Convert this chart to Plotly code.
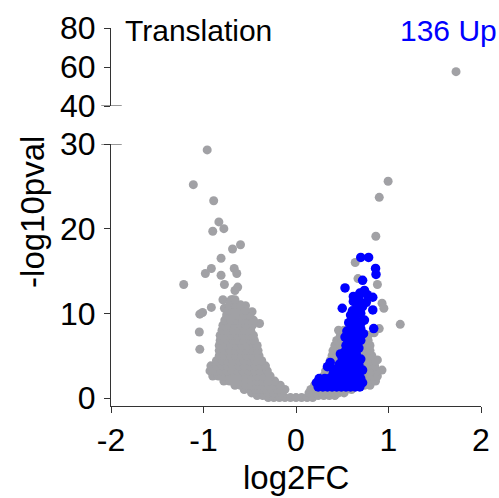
import plotly.graph_objects as go

# ---------------- data ----------------
# isolated grey points (log2FC, -log10pval)
gray_sc_x = [-0.96, -1.11, -0.89, -0.834, -0.78, -0.90, -0.60, -0.686, -0.81, -0.915,
             -0.98, -0.668, -0.64, -0.81, -1.214, -0.774, -0.63, -0.66, -1.01, -1.04,
             -0.915, -1.045, -1.04, -0.79, -0.686, -0.546, -0.475, -0.394, -0.774,
             0.996, 0.90, 0.863, 0.64, 0.67, 0.88, 0.93, 0.95, 1.127, 0.53, 0.90,
             0.845, 0.93, 0.88]
gray_sc_y = [29.3, 25.2, 23.3, 20.8, 20.0, 19.7, 18.1, 17.6, 16.5, 15.3,
             14.7, 15.3, 14.7, 14.5, 13.4, 13.4, 13.1, 12.7, 10.1, 9.9,
             10.7, 7.8, 5.75, 11.6, 11.6, 10.9, 10.2, 8.8, 10.6,
             25.6, 23.7, 19.1, 16.0, 14.1, 13.4, 11.2, 10.6, 8.7, 7.5, 8.2,
             7.7, 3.3, 4.5]

# dense grey cloud, listed row by row: -log10pval level and the log2FC values on it
cloud_levels = [0.05, 0.3, 0.6, 1.0, 1.5, 2.0, 2.6, 3.2, 3.8, 4.4, 5.0, 5.6, 6.2,
                6.8, 7.4, 8.0, 8.6, 9.2, 9.8, 10.4, 11.0, 11.6]
cloud_x = [
    [-0.30, -0.24, -0.18, -0.12, -0.06, 0.0, 0.06, 0.12, 0.18],
    [-0.42, -0.36, -0.30, -0.24, -0.18, 0.18, 0.24, 0.30, 0.36, 0.42],
    [-0.48, -0.42, -0.36, -0.30, -0.24, -0.16, 0.14, 0.22, 0.28, 0.34, 0.40, 0.46, 0.52],
    [-0.56, -0.50, -0.44, -0.38, -0.32, -0.26, -0.20, -0.12, 0.16, 0.24, 0.30, 0.36, 0.42, 0.48, 0.54, 0.60],
    [-0.66, -0.60, -0.54, -0.48, -0.42, -0.36, -0.30, -0.24, -0.17, 0.20, 0.26, 0.32, 0.38, 0.44, 0.50, 0.56, 0.62, 0.68, 0.74, 0.80],
    [-0.78, -0.72, -0.66, -0.60, -0.54, -0.48, -0.42, -0.36, -0.30, -0.23, 0.26, 0.32, 0.38, 0.44, 0.50, 0.56, 0.62, 0.68, 0.74, 0.80, 0.86],
    [-0.90, -0.84, -0.78, -0.72, -0.66, -0.60, -0.54, -0.48, -0.42, -0.36, -0.28, 0.30, 0.36, 0.42, 0.48, 0.54, 0.60, 0.66, 0.72, 0.78, 0.84, 0.88],
    [-0.93, -0.87, -0.81, -0.75, -0.69, -0.63, -0.57, -0.51, -0.45, -0.39, -0.31, 0.32, 0.38, 0.44, 0.50, 0.56, 0.62, 0.68, 0.74, 0.82, 0.88],
    [-0.92, -0.86, -0.80, -0.74, -0.68, -0.62, -0.56, -0.50, -0.44, -0.38, -0.33, 0.35, 0.41, 0.47, 0.53, 0.59, 0.65, 0.71, 0.77, 0.85],
    [-0.86, -0.80, -0.74, -0.68, -0.62, -0.56, -0.50, -0.44, -0.37, 0.37, 0.43, 0.49, 0.55, 0.61, 0.67, 0.73, 0.79, 0.86],
    [-0.83, -0.77, -0.71, -0.65, -0.59, -0.53, -0.47, -0.40, 0.39, 0.45, 0.51, 0.57, 0.63, 0.69, 0.75, 0.82],
    [-0.83, -0.77, -0.71, -0.65, -0.59, -0.53, -0.47, -0.41, 0.40, 0.46, 0.52, 0.58, 0.64, 0.70, 0.76, 0.80],
    [-0.83, -0.76, -0.70, -0.64, -0.58, -0.52, -0.46, -0.42, 0.42, 0.48, 0.54, 0.60, 0.66, 0.72, 0.80],
    [-0.82, -0.74, -0.68, -0.62, -0.56, -0.50, -0.45, 0.44, 0.50, 0.56, 0.62, 0.68, 0.78],
    [-0.82, -0.75, -0.69, -0.63, -0.57, -0.51, -0.46, 0.48, 0.54, 0.60, 0.66, 0.78],
    [-0.80, -0.73, -0.67, -0.61, -0.55, -0.49, 0.46, 0.52, 0.58],
    [-0.79, -0.72, -0.66, -0.60, -0.54, -0.47],
    [-0.77, -0.70, -0.64, -0.58, -0.52, -0.46],
    [-0.75, -0.68, -0.62, -0.56, -0.50],
    [-0.73, -0.66, -0.60, -0.55],
    [-0.72, -0.66, -0.60],
    [-0.70, -0.66],
]

# the one grey outlier on the upper (broken) axis
top_x = [1.73]
top_y = [57.6]

# significant "Up" genes (blue)
blue_x = [0.70, 0.785, 0.86, 0.865, 0.72, 0.53, 0.62, 0.69, 0.74, 0.77, 0.83, 0.50, 0.83,
          0.67, 0.70, 0.63, 0.74, 0.84, 0.60, 0.58, 0.53, 0.67,
          0.66, 0.72, 0.76, 0.68, 0.62, 0.71, 0.66, 0.64, 0.70, 0.62, 0.56, 0.60, 0.66, 0.70,
          0.54, 0.58, 0.63, 0.68, 0.52, 0.56, 0.62, 0.66, 0.50, 0.54, 0.60, 0.64, 0.70,
          0.47, 0.52, 0.58, 0.63, 0.68, 0.37, 0.34, 0.40, 0.45, 0.50, 0.55, 0.61, 0.66, 0.72,
          0.24, 0.29, 0.34, 0.39, 0.44, 0.49, 0.54, 0.59, 0.64, 0.69,
          0.22, 0.27, 0.32, 0.37, 0.42, 0.47, 0.52, 0.57, 0.62, 0.67, 0.72,
          0.25, 0.31, 0.36, 0.41, 0.46, 0.51, 0.56, 0.61, 0.66, 0.70,
          0.40, 0.46, 0.52, 0.58, 0.63, 0.68,
          0.59, 0.65, 0.57, 0.61, 0.55, 0.69, 0.73, 0.48, 0.44, 0.65]
blue_y = [16.6, 16.6, 15.3, 14.6, 13.9, 13.0, 12.0, 12.4, 12.7, 12.2, 11.9, 10.6, 10.4,
          11.2, 10.0, 9.6, 9.2, 8.2, 8.4, 7.6, 7.2, 7.2,
          10.6, 10.8, 11.3, 11.8, 11.4, 9.0, 8.6, 8.0, 8.2, 7.4, 6.8, 6.4, 6.5, 6.8,
          6.2, 5.8, 5.6, 5.9, 5.4, 5.0, 5.0, 4.8, 4.6, 4.4, 4.2, 4.4, 4.6,
          4.0, 3.8, 3.6, 3.8, 3.9, 4.2, 3.7, 3.4, 3.3, 3.2, 3.0, 3.1, 3.2, 3.3,
          1.3, 1.3, 1.3, 1.3, 1.3, 1.3, 1.3, 1.3, 1.3, 1.3,
          1.8, 1.8, 1.8, 1.8, 1.8, 1.8, 1.8, 1.8, 1.8, 1.8, 1.8,
          2.3, 2.3, 2.3, 2.3, 2.3, 2.3, 2.3, 2.3, 2.3, 2.3,
          2.8, 2.8, 2.8, 2.8, 2.8, 2.8,
          9.8, 9.2, 8.9, 10.3, 7.9, 10.2, 7.6, 5.2, 2.5, 5.3]

x_ticks = [-2, -1, 0, 1, 2]
x_tick_text = ["-2", "-1", "0", "1", "2"]
y_ticks_low = [0, 10, 20, 30]
y_ticks_high = [40, 60, 80]
title_text = "Translation"
up_text = "136 Up"

# ---------------- figure ----------------
GRAY = "#a1a1a5"
BLUE = "#0000ff"
AX = "#333333"
FONT = "Liberation Sans, Arial, sans-serif"

gx = list(gray_sc_x)
gy = list(gray_sc_y)
for lvl, xs in zip(cloud_levels, cloud_x):
    gx.extend(xs)
    gy.extend([lvl] * len(xs))

fig = go.Figure()
fig.add_trace(go.Scatter(x=gx, y=gy, mode="markers", xaxis="x", yaxis="y",
                         marker=dict(size=9, color=GRAY, line=dict(width=0)),
                         hoverinfo="skip", showlegend=False))
fig.add_trace(go.Scatter(x=top_x, y=top_y, mode="markers", xaxis="x", yaxis="y2",
                         marker=dict(size=9, color=GRAY, line=dict(width=0)),
                         hoverinfo="skip", showlegend=False))
fig.add_trace(go.Scatter(x=blue_x, y=blue_y, mode="markers", xaxis="x", yaxis="y",
                         marker=dict(size=9.5, color=BLUE, line=dict(width=0)),
                         hoverinfo="skip", showlegend=False))

L, R, T, B = 111, 9, 28, 92
W, H = 499, 498
pw, ph = W - L - R, H - T - B
low_top = (406 - 144) / ph
high_bot = (406 - 106) / ph

axis_common = dict(showline=True, linecolor=AX, linewidth=1, ticks="outside",
                   ticklen=6, tickcolor=AX, tickwidth=1, showgrid=False, zeroline=False,
                   tickfont=dict(size=32, color="black", family=FONT))

fig.update_layout(
    width=W, height=H,
    margin=dict(l=L, r=R, t=T, b=B),
    paper_bgcolor="white", plot_bgcolor="white",
    font=dict(family=FONT, color="black"),
    xaxis=dict(range=[-2, 2], tickvals=x_ticks, ticktext=x_tick_text, domain=[0, 1],
               anchor="y", **axis_common),
    yaxis=dict(range=[-0.945, 30], tickvals=y_ticks_low, domain=[0, low_top], anchor="x",
               ticklabelstandoff=2, **axis_common),
    yaxis2=dict(range=[40, 80], tickvals=y_ticks_high, domain=[high_bot, 1], anchor="x",
                ticklabelstandoff=2, **axis_common),
)

# break marks crossing the y axis at 30 and 40
for ref, val in (("y", 30), ("y2", 40)):
    fig.add_shape(type="line", xref="paper", yref=ref,
                  x0=(101 - L) / pw, x1=(122 - L) / pw, y0=val, y1=val,
                  line=dict(color=AX, width=1))

def px_x(p):
    return (p - L) / pw

def px_y(p):
    return (406 - p) / ph

fig.add_annotation(text=title_text, xref="paper", yref="paper", x=px_x(123), y=px_y(31),
                   xanchor="left", yanchor="middle", showarrow=False,
                   font=dict(size=30, color="black", family=FONT))
fig.add_annotation(text=up_text, xref="paper", yref="paper", x=px_x(508), y=px_y(31),
                   xanchor="right", yanchor="middle", showarrow=False,
                   font=dict(size=30, color=BLUE, family=FONT))
fig.add_annotation(text="-log10pval", xref="paper", yref="paper", x=px_x(30), y=px_y(212),
                   xanchor="center", yanchor="middle", textangle=-90, showarrow=False,
                   font=dict(size=33, color="black", family=FONT))
fig.add_annotation(text="log2FC", xref="paper", yref="paper", x=px_x(300), y=px_y(477),
                   xanchor="center", yanchor="middle", showarrow=False,
                   font=dict(size=33, color="black", family=FONT))

fig.write_html("out.html")
